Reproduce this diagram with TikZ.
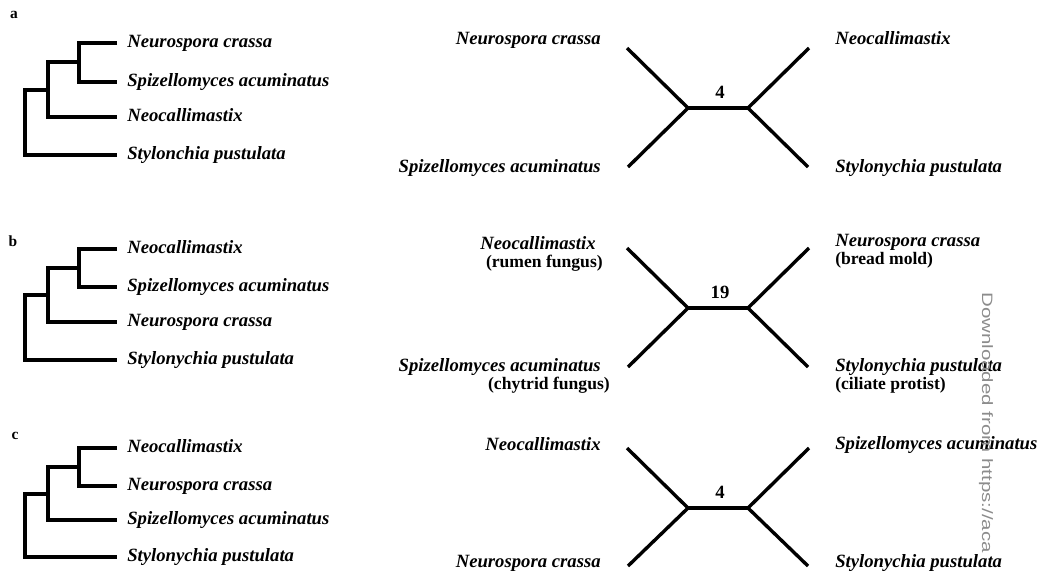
\documentclass[tikz,border=0pt]{standalone}
\usepackage{fontspec}
\setmainfont{Liberation Serif}
\newfontfamily\stampfont{Liberation Sans}
\usetikzlibrary{calc}
\tikzset{
  taxon/.style={inner ysep=0pt,inner xsep=0pt,text height=0.33cm,text depth=0.1cm,
                font=\fontsize{13.3}{16}\selectfont\bfseries\itshape},
  common/.style={inner sep=0pt,text height=0.33cm,text depth=0.1cm,
                font=\fontsize{12.5}{15}\selectfont\bfseries},
  leaf/.style={taxon,anchor=west,inner xsep=0.25cm},
  panel/.style={inner sep=0pt,font=\fontsize{11}{13}\selectfont\bfseries},
  count/.style={inner sep=0pt,font=\fontsize{13.3}{15}\selectfont\bfseries},
  stamp/.style={inner sep=0pt,text=black!45,font=\stampfont\fontsize{10.7}{12}\selectfont}
}

\begin{document}
\begin{tikzpicture}[x=0.025cm,y=-0.025cm,
                    branch/.style={line width=0.11cm},
                    split/.style={line width=0.085cm,line join=miter}]
  \useasboundingbox (0,0) rectangle (1040,575);

  % panel a
  \node[panel] (pa) at (14,15) {a};
  \node[leaf] (a1) at (117,43) {Neurospora crassa};
  \node[leaf] (a2) at (117,82) {Spizellomyces acuminatus};
  \node[leaf] (a3) at (117,117) {Neocallimastix};
  \node[leaf] (a4) at (117,155) {Stylonchia pustulata};
  \coordinate (ax) at (79,62);
  \coordinate (ay) at (48,90);
  \coordinate (ar) at (25,123);
  \draw[branch] (a1.west) -| (ax) |- (a2.west);
  \draw[branch] (ax) -| (ay) |- (a3.west);
  \draw[branch] (ay) -| (ar) |- (a4.west);

  \coordinate (aNW) at (627,48);
  \coordinate (aSW) at (628,167);
  \coordinate (aNE) at (809,48);
  \coordinate (aSE) at (808,167);
  \coordinate (aL) at (688,108);
  \coordinate (aR) at (748,108);
  \draw[split] (aNW) -- (aL) -- (aSW);
  \draw[split] (aNE) -- (aR) -- (aSE);
  \draw[split] (aL) -- (aR);
  \node[count] (an) at (720,92) {4};
  \node[taxon,anchor=east] (aNWt) at (601,40) {Neurospora crassa};
  \node[taxon,anchor=east] (aSWt) at (601,168) {Spizellomyces acuminatus};
  \node[taxon,anchor=west] (aNEt) at (835,40) {Neocallimastix};
  \node[taxon,anchor=west] (aSEt) at (835,168) {Stylonychia pustulata};

  % panel b
  \node[panel] (pb) at (13,241) {b};
  \node[leaf] (b1) at (117,249) {Neocallimastix};
  \node[leaf] (b2) at (117,287) {Spizellomyces acuminatus};
  \node[leaf] (b3) at (117,322) {Neurospora crassa};
  \node[leaf] (b4) at (117,360) {Stylonychia pustulata};
  \coordinate (bx) at (79,268);
  \coordinate (by) at (48,295);
  \coordinate (br) at (25,328);
  \draw[branch] (b1.west) -| (bx) |- (b2.west);
  \draw[branch] (bx) -| (by) |- (b3.west);
  \draw[branch] (by) -| (br) |- (b4.west);

  \coordinate (bNW) at (627,248);
  \coordinate (bSW) at (628,367);
  \coordinate (bNE) at (809,248);
  \coordinate (bSE) at (808,367);
  \coordinate (bL) at (688,308);
  \coordinate (bR) at (748,308);
  \draw[split] (bNW) -- (bL) -- (bSW);
  \draw[split] (bNE) -- (bR) -- (bSE);
  \draw[split] (bL) -- (bR);
  \node[count] (bn) at (720,292) {19};
  \node[taxon,anchor=east] (bNWt) at (596,245) {Neocallimastix};
  \node[common,anchor=east] (bNWc) at (603,263) {(rumen fungus)};
  \node[taxon,anchor=east] (bSWt) at (601,367) {Spizellomyces acuminatus};
  \node[common,anchor=east] (bSWc) at (610,385) {(chytrid fungus)};
  \node[taxon,anchor=west] (bNEt) at (835,242) {Neurospora crassa};
  \node[common,anchor=west] (bNEc) at (835,260) {(bread mold)};
  \node[taxon,anchor=west] (bSEt) at (835,367) {Stylonychia pustulata};
  \node[common,anchor=west] (bSEc) at (835,385) {(ciliate protist)};

  % panel c
  \node[panel] (pc) at (15,436) {c};
  \node[leaf] (c1) at (117,448) {Neocallimastix};
  \node[leaf] (c2) at (117,486) {Neurospora crassa};
  \node[leaf] (c3) at (117,520) {Spizellomyces acuminatus};
  \node[leaf] (c4) at (117,557) {Stylonychia pustulata};
  \coordinate (cx) at (79,467);
  \coordinate (cy) at (48,494);
  \coordinate (cr) at (25,526);
  \draw[branch] (c1.west) -| (cx) |- (c2.west);
  \draw[branch] (cx) -| (cy) |- (c3.west);
  \draw[branch] (cy) -| (cr) |- (c4.west);

  \coordinate (cNW) at (627,448);
  \coordinate (cSW) at (628,566);
  \coordinate (cNE) at (809,448);
  \coordinate (cSE) at (808,566);
  \coordinate (cL) at (688,508);
  \coordinate (cR) at (748,508);
  \draw[split] (cNW) -- (cL) -- (cSW);
  \draw[split] (cNE) -- (cR) -- (cSE);
  \draw[split] (cL) -- (cR);
  \node[count] (cn) at (720,492) {4};
  \node[taxon,anchor=east] (cNWt) at (601,446) {Neocallimastix};
  \node[taxon,anchor=east] (cSWt) at (601,563) {Neurospora crassa};
  \node[taxon,anchor=west] (cNEt) at (835,445) {Spizellomyces acuminatus};
  \node[taxon,anchor=west] (cSEt) at (835,563) {Stylonychia pustulata};

  % watermark
  \node[stamp,rotate=-90,xscale=1.36,anchor=base west] (wm) at (982,292)
    {Downloaded from https://aca};
\end{tikzpicture}
\end{document}
